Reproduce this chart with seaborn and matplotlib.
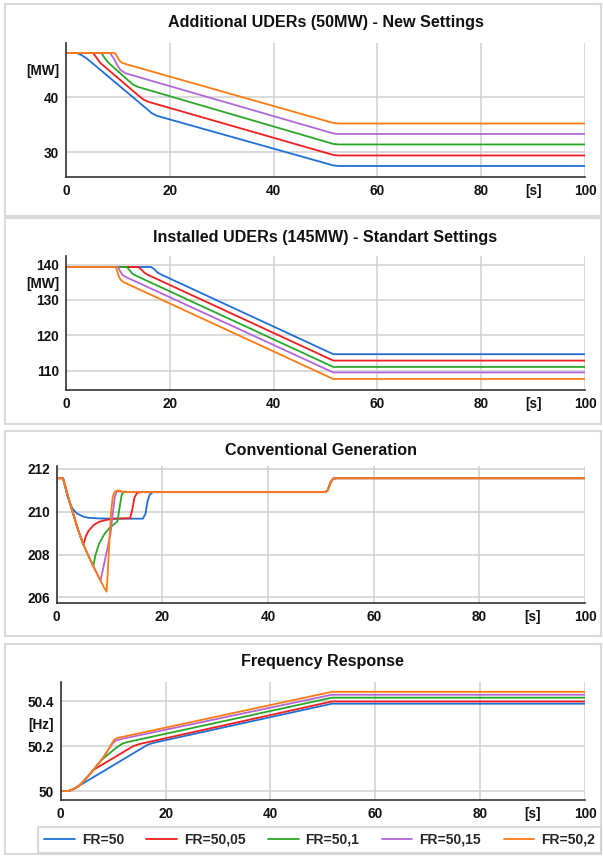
import seaborn as sns
import pandas as pd
import matplotlib.pyplot as plt
from matplotlib.patches import Rectangle
from matplotlib.lines import Line2D
from matplotlib.ticker import MultipleLocator

series = ["FR=50", "FR=50,05", "FR=50,1", "FR=50,15", "FR=50,2"]
colors = ["#1f6fd6", "#f01e1e", "#28a828", "#b366d6", "#ff7b12"]

# --- Additional UDERs (50MW) - New Settings ---
new_t_50 = [0, 2.0, 3.0, 4.0, 15.0, 16.5, 17.5, 19.0, 51.5, 52.5, 100]
new_v_50 = [48.0, 48.0, 47.6, 47.0, 38.3, 37.1, 36.6, 36.2, 27.6, 27.5, 27.5]
new_t_5005 = [0, 5.2, 6.0, 6.6, 13.8, 15.0, 16.0, 51.5, 52.5, 100]
new_v_5005 = [48.0, 48.0, 47.0, 46.2, 40.4, 39.5, 39.1, 29.5, 29.4, 29.4]
new_t_501 = [0, 6.8, 7.5, 8.2, 12.0, 13.0, 14.0, 51.5, 52.5, 100]
new_v_501 = [48.0, 48.0, 47.0, 46.2, 43.0, 42.2, 41.8, 31.5, 31.4, 31.4]
new_t_5015 = [0, 8.5, 9.2, 9.8, 10.5, 11.5, 51.5, 52.5, 100]
new_v_5015 = [48.0, 48.0, 47.0, 45.9, 44.9, 44.3, 33.4, 33.3, 33.3]
new_t_502 = [0, 9.4, 9.9, 10.3, 10.8, 11.8, 51.5, 52.5, 100]
new_v_502 = [48.0, 48.0, 47.3, 46.6, 46.2, 45.9, 35.3, 35.2, 35.2]

# --- Installed UDERs (145MW) - Standart Settings ---
inst_t_50 = [0, 16.4, 17.0, 17.6, 18.3, 51.5, 100]
inst_v_50 = [139.3, 139.3, 138.7, 137.8, 137.2, 114.7, 114.7]
inst_t_5005 = [0, 13.9, 14.5, 15.1, 15.8, 51.5, 100]
inst_v_5005 = [139.3, 139.3, 138.6, 137.7, 137.07, 112.9, 112.9]
inst_t_501 = [0, 11.7, 12.2, 12.8, 13.5, 51.5, 100]
inst_v_501 = [139.3, 139.3, 138.5, 137.4, 136.83, 111.1, 111.1]
inst_t_5015 = [0, 10.0, 10.4, 10.9, 11.7, 51.5, 100]
inst_v_5015 = [139.3, 139.3, 138.2, 137.0, 136.36, 109.55, 109.55]
inst_t_502 = [0, 9.6, 9.9, 10.2, 10.6, 11.2, 51.5, 100]
inst_v_502 = [139.3, 139.3, 138.0, 136.5, 135.6, 134.95, 107.7, 107.7]

# --- Conventional Generation ---
conv_tail_t = [50.8, 51.3, 51.8, 52.3, 53.0, 100]
conv_tail_v = [210.92, 211.0, 211.35, 211.55, 211.57, 211.57]
conv_t_50 = [0, 1.2, 2.0, 2.5, 3.0, 3.5, 4.0, 5.0, 6.0, 8.0, 10.0, 16.3, 16.8, 17.2, 17.6, 18.2]
conv_v_50 = [211.57, 211.57, 210.75, 210.4, 210.15, 210.0, 209.9, 209.78, 209.72, 209.69, 209.68, 209.68,
             209.9, 210.5, 210.8, 210.92]
conv_t_5005 = [0, 1.2, 2, 3, 4, 5.05, 5.5, 6, 7, 8, 9, 10, 11, 13.9, 14.3, 14.7, 15.2, 16]
conv_v_5005 = [211.57, 211.57, 210.85, 210.0, 209.2, 208.45, 208.85, 209.1, 209.38, 209.53, 209.6,
               209.65, 209.68, 209.7, 210.1, 210.65, 210.88, 210.92]
conv_t_501 = [0, 1.2, 2, 3, 4, 5, 6, 6.93, 7.3, 8, 9, 10, 11, 11.5, 11.9, 12.3, 12.8, 13.5]
conv_v_501 = [211.57, 211.57, 210.85, 210.0, 209.2, 208.5, 207.95, 207.45, 207.95, 208.5, 208.95,
              209.25, 209.45, 209.55, 210.2, 210.8, 210.95, 210.92]
conv_t_5015 = [0, 1.2, 2, 3, 4, 5, 6, 7, 8, 8.3, 9, 9.7, 10.2, 10.6, 11, 11.4, 12, 13]
conv_v_5015 = [211.57, 211.57, 210.85, 210.0, 209.2, 208.5, 207.95, 207.42, 206.92, 206.78, 207.6,
               208.4, 209.0, 209.9, 210.7, 210.95, 210.95, 210.92]
conv_t_502 = [0, 1.2, 2, 3, 4, 5, 6, 7, 8, 9, 9.45, 9.7, 10.0, 10.3, 10.6, 11.0, 11.6, 12.3, 13]
conv_v_502 = [211.57, 211.57, 210.85, 210.0, 209.2, 208.5, 207.95, 207.42, 206.92, 206.45, 206.27,
              207.3, 208.8, 210.0, 210.7, 210.95, 211.0, 210.95, 210.92]

# --- Frequency Response ---
freq_t_50 = [0, 1.45, 2.0, 2.7, 3.4, 16.6, 17.4, 18.2, 51.7, 100]
freq_v_50 = [50.0, 50.0, 50.004, 50.012, 50.022, 50.207, 50.213, 50.218, 50.39, 50.39]
freq_t_5005 = [0, 1.45, 2.0, 2.7, 3.4, 4.0, 5.0, 6.2, 13.8, 14.6, 15.4, 51.7, 100]
freq_v_5005 = [50.0, 50.0, 50.004, 50.012, 50.022, 50.035, 50.06, 50.094, 50.2, 50.207, 50.212, 50.40, 50.40]
freq_t_501 = [0, 1.45, 2.0, 2.7, 3.4, 4.0, 5.0, 6.2, 7.5, 8.5, 10.0, 11.0, 11.8, 12.6, 51.7, 100]
freq_v_501 = [50.0, 50.0, 50.004, 50.012, 50.022, 50.035, 50.06, 50.094, 50.131, 50.153, 50.182,
              50.2, 50.212, 50.218, 50.417, 50.417]
freq_t_5015 = [0, 1.45, 2.0, 2.7, 3.4, 4.0, 5.0, 6.2, 7.5, 8.3, 9.1, 9.6, 10.1, 10.6, 11.3, 51.7, 100]
freq_v_5015 = [50.0, 50.0, 50.004, 50.012, 50.022, 50.035, 50.06, 50.094, 50.131, 50.157, 50.185,
               50.203, 50.218, 50.226, 50.231, 50.43, 50.43]
freq_t_502 = [0, 1.45, 2.0, 2.7, 3.4, 4.0, 5.0, 6.2, 7.5, 8.3, 9.1, 9.6, 10.0, 10.4, 11.0, 51.7, 100]
freq_v_502 = [50.0, 50.0, 50.004, 50.012, 50.022, 50.035, 50.06, 50.094, 50.131, 50.157, 50.185,
              50.205, 50.222, 50.233, 50.238, 50.443, 50.443]


def make_df(ts, vs):
    rows = []
    for name, t, v in zip(series, ts, vs):
        for a, b in zip(t, v):
            rows.append({"t": a, "v": b, "series": name})
    return pd.DataFrame(rows)


panels = [
    {
        "title": "Additional UDERs (50MW) - New Settings",
        "df": make_df([new_t_50, new_t_5005, new_t_501, new_t_5015, new_t_502],
                      [new_v_50, new_v_5005, new_v_501, new_v_5015, new_v_502]),
        "box": (66, 43, 585, 177), "title_y": 27,
        "ylim": (25.5, 49.8), "ygrid": [30, 40], "yminor": 2,
        "yticks": [30, 40, 45], "ylabels": ["30", "40", "[MW]"],
    },
    {
        "title": "Installed UDERs (145MW) - Standart Settings",
        "df": make_df([inst_t_50, inst_t_5005, inst_t_501, inst_t_5015, inst_t_502],
                      [inst_v_50, inst_v_5005, inst_v_501, inst_v_5015, inst_v_502]),
        "box": (66, 256, 585, 390), "title_y": 242,
        "ylim": (104.6, 142.4), "ygrid": [110, 120, 130, 140], "yminor": 2.5,
        "yticks": [110, 120, 130, 135, 140], "ylabels": ["110", "120", "130", "[MW]", "140"],
    },
    {
        "title": "Conventional Generation",
        "df": make_df([conv_t_50 + conv_tail_t, conv_t_5005 + conv_tail_t, conv_t_501 + conv_tail_t,
                       conv_t_5015 + conv_tail_t, conv_t_502 + conv_tail_t],
                      [conv_v_50 + conv_tail_v, conv_v_5005 + conv_tail_v, conv_v_501 + conv_tail_v,
                       conv_v_5015 + conv_tail_v, conv_v_502 + conv_tail_v]),
        "box": (56.7, 466, 585, 603), "title_y": 455,
        "ylim": (205.74, 212.14), "ygrid": [206, 208, 210, 212], "yminor": 0.5,
        "yticks": [206, 208, 210, 212], "ylabels": ["206", "208", "210", "212"],
    },
    {
        "title": "Frequency Response",
        "df": make_df([freq_t_50, freq_t_5005, freq_t_501, freq_t_5015, freq_t_502],
                      [freq_v_50, freq_v_5005, freq_v_501, freq_v_5015, freq_v_502]),
        "box": (60.7, 682, 585, 800), "title_y": 666,
        "ylim": (49.96, 50.487), "ygrid": [50, 50.2, 50.4], "yminor": 0.04,
        "yticks": [50, 50.2, 50.3, 50.4], "ylabels": ["50", "50.2", "[Hz]", "50.4"],
    },
]

sns.set_theme(style="white")
plt.rcParams["font.family"] = ["Liberation Sans", "DejaVu Sans"]

W, H = 603, 856
fig = plt.figure(figsize=(W / 100, H / 100), dpi=100)

# panel cards
for y0, y1 in [(4, 216), (218, 424), (431, 636), (644, 854)]:
    fig.add_artist(Rectangle((5 / W, 1 - y1 / H), 596 / W, (y1 - y0) / H,
                             transform=fig.transFigure, fill=False,
                             ec="#dadada", lw=1.5))

for p in panels:
    l, t, r, b = p["box"]
    ax = fig.add_axes([l / W, 1 - b / H, (r - l) / W, (b - t) / H])
    ax.set_facecolor("none")
    for xg in [0, 20, 40, 60, 80, 100]:
        ax.axvline(xg, color="#d0d0d0", lw=1.1, zorder=0)
    for yg in p["ygrid"]:
        ax.axhline(yg, color="#d0d0d0", lw=1.1, zorder=0)
    sns.lineplot(data=p["df"], x="t", y="v", hue="series", palette=colors,
                 estimator=None, sort=False, legend=False, lw=1.3, ax=ax)
    ax.set_xlim(0, 100)
    ax.set_ylim(*p["ylim"])
    ax.set_xlabel("")
    ax.set_ylabel("")
    ax.set_xticks([0, 20, 40, 60, 80, 90, 100],
                  ["0", "20", "40", "60", "80", "[s]", "100"])
    ax.set_yticks(p["yticks"], p["ylabels"])
    ax.xaxis.set_minor_locator(MultipleLocator(5))
    ax.yaxis.set_minor_locator(MultipleLocator(p["yminor"]))
    ax.xaxis.remove_overlapping_locs = False
    ax.yaxis.remove_overlapping_locs = False
    ax.tick_params(which="major", length=0, pad=5, labelsize=9.8, labelcolor="#111111")
    ax.tick_params(which="minor", direction="in", length=4, width=0.8, color="#777777")
    for lab in ax.get_xticklabels() + ax.get_yticklabels():
        lab.set_fontweight("bold")
    for s in ["top", "right"]:
        ax.spines[s].set_visible(False)
    for s in ["left", "bottom"]:
        ax.spines[s].set_color("#333333")
        ax.spines[s].set_linewidth(1.2)
    fig.text((l + r) / 2 / W, 1 - p["title_y"] / H, p["title"], ha="center",
             va="baseline", fontsize=11.6, fontweight="bold", color="#111111")

handles = [Line2D([], [], color=c, lw=1.3) for c in colors]
leg = fig.legend(handles, series, loc="lower left",
                 bbox_to_anchor=(38 / W, 1 - 853 / H, 563 / W, 27 / H),
                 mode="expand", ncol=5, frameon=True, fancybox=False,
                 edgecolor="#d0d0d0", prop={"weight": "bold", "size": 10},
                 handlelength=2.2, handletextpad=0.5, borderaxespad=0, borderpad=0.45)
leg.get_frame().set_linewidth(1.5)

fig.savefig("out.png", dpi=100)
